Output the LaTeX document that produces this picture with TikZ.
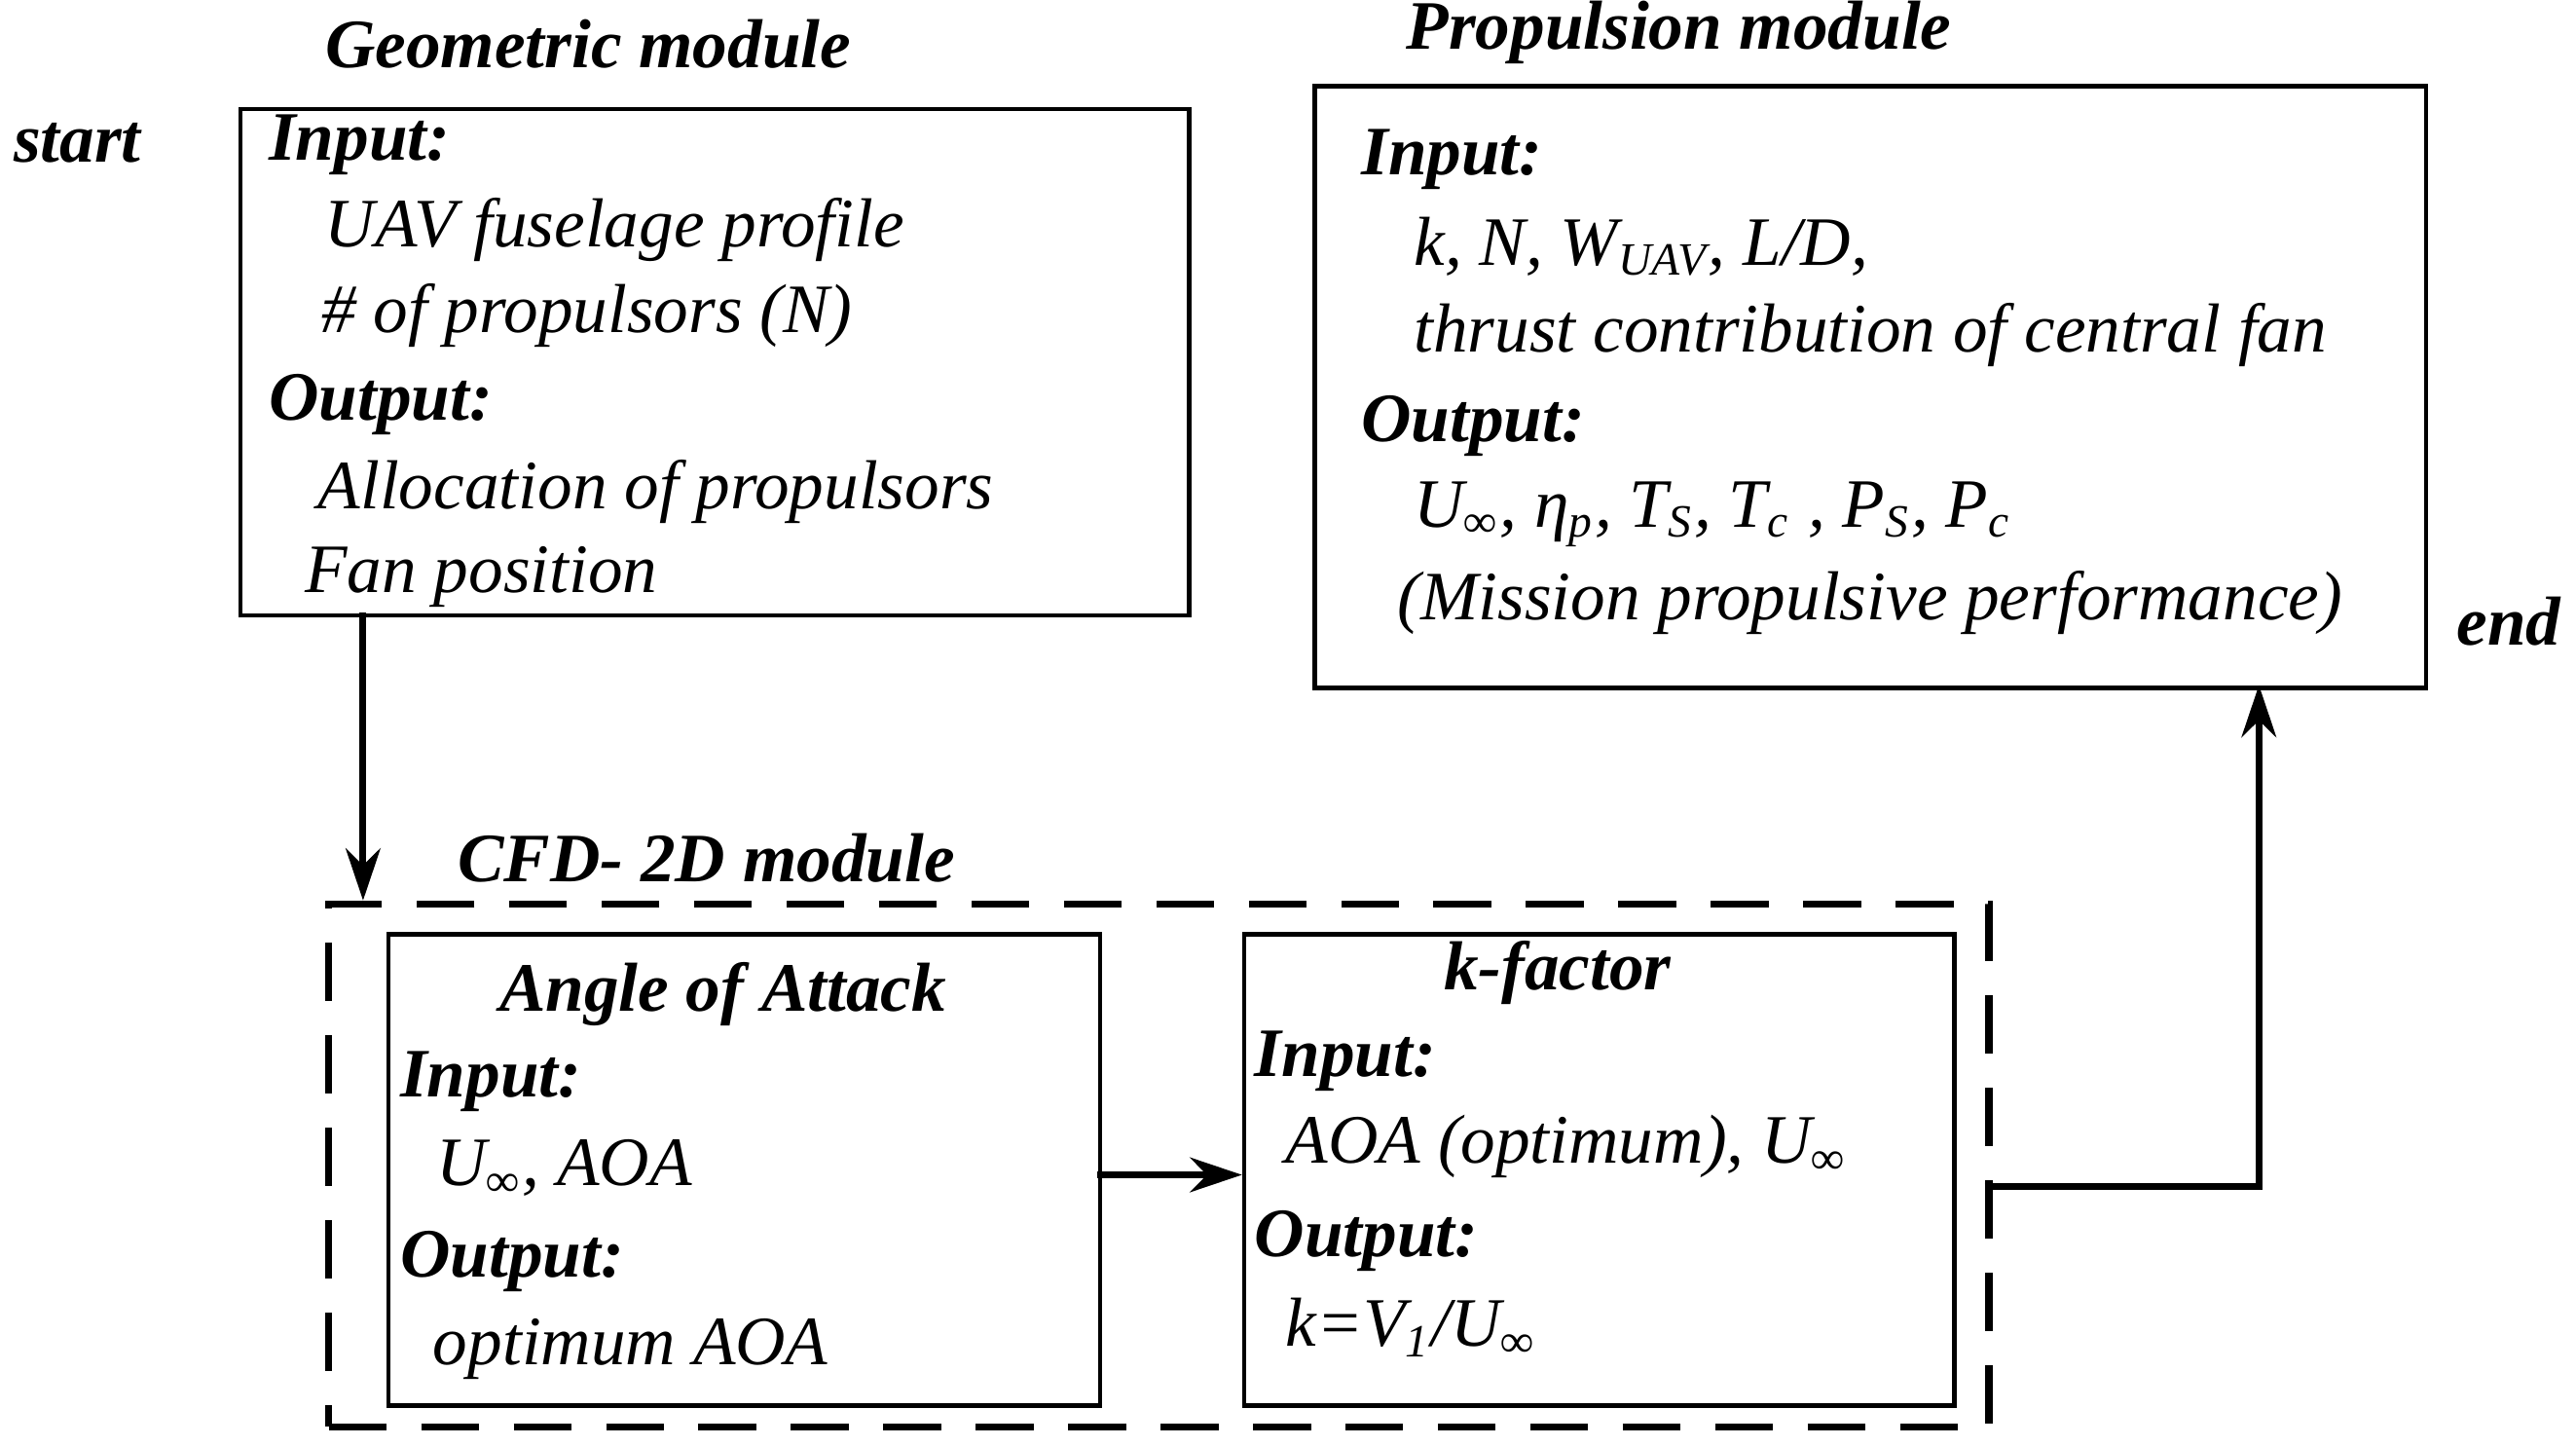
\documentclass[tikz,border=0pt]{standalone}
\usepackage{fontspec}
\setmainfont{Liberation Serif}
\usetikzlibrary{arrows.meta}
\newcommand{\sbs}[1]{\textsubscript{#1}}
\begin{document}
\begin{tikzpicture}[x=0.01cm,y=-0.01cm,
  box/.style={draw,line width=0.8pt,anchor=north west,inner sep=0pt},
  t/.style={anchor=west,inner sep=0pt,font=\fontsize{12}{14}\selectfont\itshape},
  h/.style={anchor=west,inner sep=0pt,font=\fontsize{12}{14}\selectfont\bfseries\itshape},
  ttl/.style={inner sep=0pt,font=\fontsize{12}{14}\selectfont\bfseries\itshape},
  arr/.style={-{Stealth[length=9pt,width=6pt]},line width=1.2pt}]
\useasboundingbox (0,0) rectangle (1568,880);
\node[ttl] (st) at (47,87) {start};
\node[ttl] (en) at (1527,378) {end};
\node[ttl] (gt) at (358,27) {Geometric module};
\node[box,minimum width=5.77cm,minimum height=3.08cm] (geo) at (145,65) {};
\node[h] at (163,88) {Input:};
\node[t] at (197,140) {UAV fuselage profile};
\node[t] at (195,192) {\# of propulsors (N)};
\node[h] at (163,246) {Output:};
\node[t] at (193,299) {Allocation of propulsors};
\node[t] at (185,351) {Fan position};
\node[ttl] (pt) at (1022,20) {Propulsion module};
\node[box,minimum width=6.76cm,minimum height=3.66cm] (pro) at (799,51) {};
\node[h] at (828,97) {Input:};
\node[t] at (860,150) {k, N, W\sbs{UAV}, L/D,};
\node[t] at (860,204) {thrust contribution of central fan};
\node[h] at (828,259) {Output:};
\node[t] at (860,313) {U\sbs{∞}, η\sbs{p}, T\sbs{S}, T\sbs{c} , P\sbs{S}, P\sbs{c}};
\node[t] at (850,367) {(Mission propulsive performance)};
\node[ttl] (ct) at (430,522) {CFD- 2D module};
\node[box,dashed,line width=1.2pt,dash pattern=on 10pt off 6pt,minimum width=10.10cm,minimum height=3.18cm] (cfd) at (198,548) {};
\node[box,minimum width=4.33cm,minimum height=2.87cm] (aoa) at (235,567) {};
\node[ttl] at (440,605) {Angle of Attack};
\node[h] at (243,658) {Input:};
\node[t] at (265,711) {U\sbs{∞}, AOA};
\node[h] at (243,768) {Output:};
\node[t] at (263,821) {optimum AOA};
\node[box,minimum width=4.32cm,minimum height=2.87cm] (kf) at (756,567) {};
\node[ttl] at (948,592) {k-factor};
\node[h] at (763,646) {Input:};
\node[t] at (782,698) {AOA (optimum), U\sbs{∞}};
\node[h] at (763,755) {Output:};
\node[t] at (782,808) {k=V\sbs{1}/U\sbs{∞}};
\coordinate (g1) at (221,373);
\draw[arr] (g1) -- (g1|-cfd.north);
\coordinate (a1) at (668,715);
\draw[arr] (a1) -- (kf.west|-a1);
\coordinate (c1) at (1208,722);
\coordinate (c2) at (1375,417);
\draw[arr] (c1) -| (c2);
\end{tikzpicture}
\end{document}
